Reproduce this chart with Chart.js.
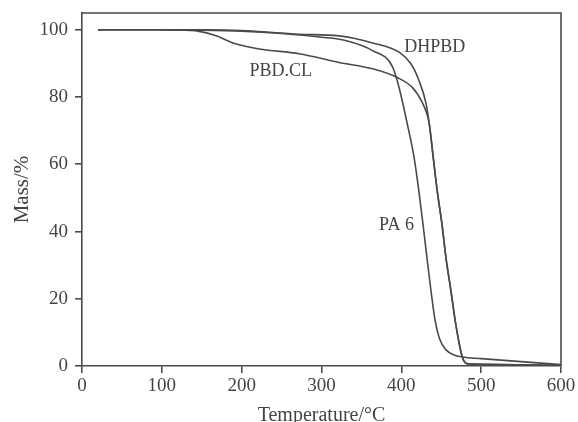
<!DOCTYPE html>
<html>
<head>
<meta charset="utf-8">
<script src="https://cdn.jsdelivr.net/npm/chart.js@4/dist/chart.umd.min.js"></script>
<style>
  html, body { margin: 0; padding: 0; background: #fff; }
  #wrap { width: 578px; height: 422px; }
</style>
</head>
<body>
<div id="wrap"><canvas id="tgaChart"></canvas></div>
<script>
"use strict";

// Temperature (°C) / mass (%)
const pa6Temp   = [20, 100, 150, 200, 250, 300, 330, 364, 389, 397, 407, 416, 422, 427, 432, 437, 442, 448, 456, 466, 476, 500, 550, 600];
const pa6Mass   = [100, 100, 99.9, 99.6, 98.9, 97.8, 96.8, 93.8, 89, 83, 72.5, 62, 52, 42.4, 32.4, 22.6, 14, 8, 4.8, 3.3, 2.7, 2.2, 1.3, 0.4];

const dhpbdTemp = [20, 100, 150, 200, 272, 322, 364, 398, 412, 422, 431, 435, 440, 445, 451, 456, 462, 468, 476, 482, 500, 600];
const dhpbdMass = [100, 100, 100, 99.8, 98.7, 98.2, 96.1, 93.2, 89.9, 85, 78, 72, 62, 52, 42, 32, 22.6, 12.7, 3, 0.7, 0.5, 0.2];

const pbdTemp   = [20, 100, 125, 145, 168, 189, 222, 272, 322, 364, 395, 414, 426, 432, 435, 440, 445, 451, 456, 462, 468, 476, 482, 500, 600];
const pbdMass   = [100, 100, 99.9, 99.6, 98.2, 96.1, 94.3, 92.9, 90.3, 88.4, 85.8, 82.8, 78.5, 75, 72, 62, 52, 42, 32, 22.6, 12.7, 3, 0.7, 0.5, 0.2];

const xTicks = [0, 100, 200, 300, 400, 500, 600];
const yTicks = [0, 20, 40, 60, 80, 100];

// curve labels placed in data coordinates
const curveNames = ['DHPBD', 'PBD.CL', 'PA 6'];
const nameTemp   = [442, 249, 394];
const nameMass   = [94.7, 87.8, 41.8];

const INK = '#4a4a4a';
const SERIF = '"Liberation Serif", "DejaVu Serif", serif';

function toPoints(xs, ys) {
    return xs.map((x, i) => ({ x: x, y: ys[i] }));
}

function curve(label, xs, ys) {
    return {
        label: label,
        data: toPoints(xs, ys),
        borderColor: INK,
        borderWidth: 1.6,
        pointRadius: 0,
        fill: false,
        cubicInterpolationMode: 'monotone'
    };
}

// frame on top / right + curve names
const framePlugin = {
    id: 'framePlugin',
    afterDatasetsDraw(chart) {
        const { ctx, chartArea: a, scales } = chart;
        ctx.save();
        ctx.strokeStyle = INK;
        ctx.lineWidth = 1.6;
        ctx.beginPath();
        ctx.moveTo(a.left, a.top);
        ctx.lineTo(a.right, a.top);
        ctx.lineTo(a.right, a.bottom);
        ctx.stroke();

        ctx.fillStyle = '#444';
        ctx.font = '18px ' + SERIF;
        ctx.textAlign = 'center';
        ctx.textBaseline = 'middle';
        curveNames.forEach((name, i) => {
            ctx.fillText(name, scales.x.getPixelForValue(nameTemp[i]), scales.y.getPixelForValue(nameMass[i]));
        });
        ctx.restore();
    }
};

new Chart(document.getElementById('tgaChart'), {
    type: 'line',
    data: {
        datasets: [
            curve('PA 6', pa6Temp, pa6Mass),
            curve('DHPBD', dhpbdTemp, dhpbdMass),
            curve('PBD.CL', pbdTemp, pbdMass)
        ]
    },
    options: {
        responsive: true,
        maintainAspectRatio: false,
        animation: false,
        layout: { padding: { top: 13, right: 17, left: 0, bottom: 0 } },
        plugins: {
            legend: { display: false },
            tooltip: { enabled: false }
        },
        scales: {
            x: {
                type: 'linear',
                min: 0,
                max: 600,
                afterBuildTicks: (s) => { s.ticks = xTicks.map(v => ({ value: v })); },
                afterFit: (s) => { s.height = 56; s.paddingLeft = 0; s.paddingRight = 0; },
                ticks: {
                    color: '#444',
                    padding: 2,
                    maxRotation: 0,
                    font: { family: SERIF, size: 19 }
                },
                grid: { drawOnChartArea: false, tickLength: 7, color: INK, lineWidth: 1.6 },
                border: { display: true, color: INK, width: 1.6 },
                title: {
                    display: true,
                    text: 'Temperature/°C',
                    color: '#444',
                    padding: { top: 0, bottom: 0 },
                    font: { family: SERIF, size: 20, lineHeight: 0.65 }
                }
            },
            y: {
                min: 0,
                max: 105,
                afterBuildTicks: (s) => { s.ticks = yTicks.map(v => ({ value: v })); },
                afterFit: (s) => { s.width = 82; s.paddingTop = 0; s.paddingBottom = 0; },
                ticks: {
                    color: '#444',
                    padding: 7,
                    font: { family: SERIF, size: 19 }
                },
                grid: { drawOnChartArea: false, tickLength: 7, color: INK, lineWidth: 1.6 },
                border: { display: true, color: INK, width: 1.6 },
                title: {
                    display: true,
                    text: 'Mass/%',
                    color: '#444',
                    padding: { top: 10, bottom: 0 },
                    font: { family: SERIF, size: 21, lineHeight: 1.2 }
                }
            }
        }
    },
    plugins: [framePlugin]
});
</script>
</body>
</html>
